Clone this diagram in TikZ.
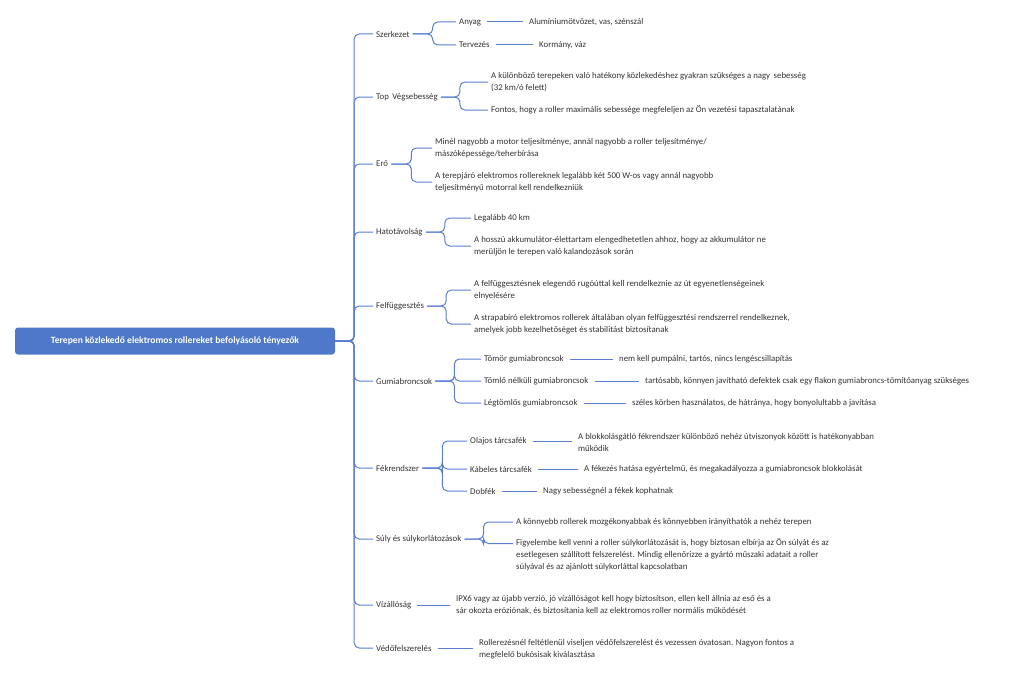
\documentclass[tikz,border=0pt]{standalone}
\usepackage{fontspec}
\setmainfont{Carlito}
\begin{document}
\begin{tikzpicture}[x=1pt,y=-1pt,
  n/.style={anchor=west,inner xsep=3pt,inner ysep=1pt,font=\fontsize{8.8}{12}\selectfont,align=left,text=black!80},
  root/.style={fill=rootblue,rounded corners=3pt,text=white,font=\bfseries\fontsize{9.6}{12}\selectfont,minimum width=320pt,minimum height=27pt,inner sep=0pt},
  e/.style={draw=lineblue,line width=1pt,rounded corners=5pt},
  l/.style={draw=lineblue,line width=1pt,shorten <=3pt,shorten >=3pt}]
\definecolor{rootblue}{HTML}{4E78C8}
\definecolor{lineblue}{HTML}{5A7FD2}
\useasboundingbox (0,0) rectangle (1024,677);
\node[root] (r) at (175,341) {Terepen közlekedő elektromos rollereket befolyásoló tényezők};
% level 1
\node[n] (a) at (373,34) {Szerkezet};
\node[n] (b) at (373,97) {Top\, Végsebesség};
\node[n] (c) at (373,164) {Erő};
\node[n] (d) at (373,232) {Hatotávolság};
\node[n] (f) at (373,306) {Felfüggesztés};
\node[n] (g) at (373,381) {Gumiabroncsok};
\node[n] (h) at (373,468) {Fékrendszer};
\node[n] (s) at (373,539) {Súly és súlykorlátozások};
\node[n] (v) at (373,605) {Vízállóság};
\node[n] (p) at (373,648) {Védőfelszerelés};
\foreach \k in {a,b,c,d,f,g,h,s,v,p} \draw[e] (r.east) -- ++(19,0) |- (\k.west);
% Szerkezet
\node[n] (a1) at (456,22) {Anyag};
\node[n] (a2) at (456,45) {Tervezés};
\node[n] (a1x) at (526,22) {Alumíniumötvözet, vas, szénszál};
\node[n] (a2x) at (536,45) {Kormány, váz};
\foreach \k in {a1,a2} \draw[e] (a.east) -- ++(20,0) |- (\k.west);
\draw[l] (a1) -- (a1x); \draw[l] (a2) -- (a2x);
% Top
\node[n] (b1) at (488,82) {A különböző terepeken való hatékony közlekedéshez gyakran szükséges a nagy\, sebesség\\(32 km/ó felett)};
\node[n] (b2) at (488,110) {Fontos, hogy a roller maximális sebessége megfeleljen az Ön vezetési tapasztalatának};
\foreach \k in {b1,b2} \draw[e] (b.east) -- ++(19,0) |- (\k.west);
% Erő
\node[n] (c1) at (432,148) {Minél nagyobb a motor teljesítménye, annál nagyobb a roller teljesítménye/\\mászóképessége/teherbírása};
\node[n] (c2) at (432,182) {A terepjáró elektromos rollereknek legalább két 500 W-os vagy annál nagyobb\\teljesítményű motorral kell rendelkezniük};
\foreach \k in {c1,c2} \draw[e] (c.east) -- ++(20,0) |- (\k.west);
% Hatotávolság
\node[n] (d1) at (471,218) {Legalább 40 km};
\node[n] (d2) at (471,246) {A hosszú akkumulátor-élettartam elengedhetetlen ahhoz, hogy az akkumulátor ne\\merüljön le terepen való kalandozások során};
\foreach \k in {d1,d2} \draw[e] (d.east) -- ++(19,0) |- (\k.west);
% Felfüggesztés
\node[n] (f1) at (471,290) {A felfüggesztésnek elegendő rugóúttal kell rendelkeznie az út egyenetlenségeinek\\elnyelésére};
\node[n] (f2) at (471,324) {A strapabíró elektromos rollerek általában olyan felfüggesztési rendszerrel rendelkeznek,\\amelyek jobb kezelhetőséget és stabilitást biztosítanak};
\foreach \k in {f1,f2} \draw[e] (f.east) -- ++(19,0) |- (\k.west);
% Gumiabroncsok
\node[n] (g1) at (481,359) {Tömör gumiabroncsok};
\node[n] (g2) at (481,381) {Tömlő nélküli gumiabroncsok};
\node[n] (g3) at (481,403) {Légtömlős gumiabroncsok};
\node[n] (g1x) at (616,359) {nem kell pumpálni, tartós, nincs lengéscsillapítás};
\node[n] (g2x) at (642,381) {tartósabb, könnyen javítható defektek csak egy flakon gumiabroncs-tömítőanyag szükséges};
\node[n] (g3x) at (629,403) {széles körben használatos, de hátránya, hogy bonyolultabb a javítása};
\foreach \k in {g1,g2,g3} \draw[e] (g.east) -- ++(19,0) |- (\k.west);
\foreach \k in {g1,g2,g3} \draw[l] (\k) -- (\k x);
% Fékrendszer
\node[n] (h1) at (467,441) {Olajos tárcsafék};
\node[n] (h2) at (467,469) {Kábeles tárcsafék};
\node[n] (h3) at (467,491) {Dobfék};
\node[n] (h1x) at (575,442) {A blokkolásgátló fékrendszer különböző nehéz útviszonyok között is hatékonyabban\\működik};
\node[n] (h2x) at (581,469) {A fékezés hatása egyértelmű, és megakadályozza a gumiabroncsok blokkolását};
\node[n] (h3x) at (540,491) {Nagy sebességnél a fékek kophatnak};
\foreach \k in {h1,h2,h3} \draw[e] (h.east) -- ++(20,0) |- (\k.west);
\draw[l] (h1.east) -- (h1x.west|-h1.east);
\draw[l] (h2) -- (h2x); \draw[l] (h3) -- (h3x);
% Súly
\node[n] (s1) at (513,522) {A könnyebb rollerek mozgékonyabbak és könnyebben irányíthatók a nehéz terepen};
\node[n] (s2) at (513,555) {Figyelembe kell venni a roller súlykorlátozását is, hogy biztosan elbírja az Ön súlyát és az\\esetlegesen szállított felszerelést. Mindig ellenőrizze a gyártó műszaki adatait a roller\\súlyával és az ajánlott súlykorláttal kapcsolatban};
\draw[e] (s.east) -- ++(19,0) |- (s1.west);
\draw[e] (s.east) -- ++(19,0) |- ([yshift=-6pt]s2.north west);
% Vízállóság
\node[n] (v1) at (453,605) {IPX6 vagy az újabb verzió, jó vízállóságot kell hogy biztosítson, ellen kell állnia az eső és a\\sár okozta eróziónak, és biztosítania kell az elektromos roller normális működését};
\draw[l] (v.east) -- (v1.west|-v.east);
% Védőfelszerelés
\node[n] (p1) at (476,649) {Rollerezésnél feltétlenül viseljen védőfelszerelést és vezessen óvatosan. Nagyon fontos a\\megfelelő bukósisak kiválasztása};
\draw[l] (p.east) -- (p1.west|-p.east);
\end{tikzpicture}
\end{document}
